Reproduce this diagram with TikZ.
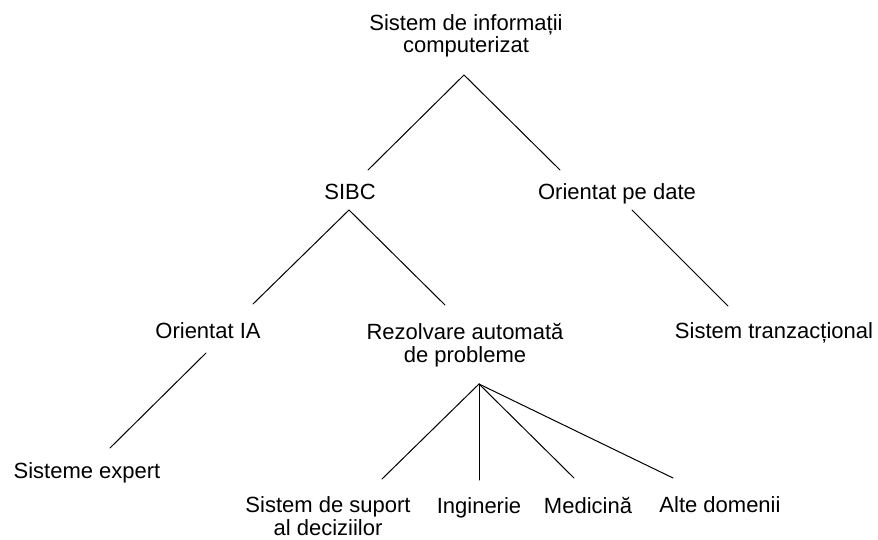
\documentclass[tikz,border=0pt]{standalone}
\usepackage{fontspec}
\setmainfont{Liberation Sans}
\begin{document}
\begin{tikzpicture}[x=1pt,y=-1pt,
  lbl/.style={anchor=base, inner sep=0pt, align=center, font=\fontsize{22}{22.5}\selectfont},
  conn/.style={line width=1pt, line cap=round}]
\useasboundingbox[fill=white] (0,0) rectangle (878,540);
% labels (anchor = baseline of the last line)
\node[lbl] (root)  at (466,53)  {Sistem de informații\\computerizat};
\node[lbl] (sibc)  at (350,200) {SIBC};
\node[lbl] (date)  at (617,200) {Orientat pe date};
\node[lbl] (ia)    at (208,338) {Orientat IA};
\node[lbl] (rez)   at (465,362) {Rezolvare automată\\de probleme};
\node[lbl] (tranz) at (774,338) {Sistem tranzacțional};
\node[lbl] (expert) at (87,478) {Sisteme expert};
\node[lbl] (dss)   at (328,535) {Sistem de suport\\al deciziilor};
\node[lbl] (ing)   at (479,513) {Inginerie};
\node[lbl] (med)   at (588,513) {Medicină};
\node[lbl] (alte)  at (720,512) {Alte domenii};
% connector end points
\coordinate (r0) at (464,75);  \coordinate (r1) at (368,170); \coordinate (r2) at (560,170);
\coordinate (s0) at (349,210); \coordinate (s1) at (253,304); \coordinate (s2) at (445,305);
\coordinate (d0) at (632,210); \coordinate (d1) at (728,306);
\coordinate (i0) at (206,353); \coordinate (i1) at (110,448);
\coordinate (f0) at (479,384); \coordinate (f1) at (382,479); \coordinate (f2) at (479,480);
\coordinate (f3) at (574,478); \coordinate (f4) at (673,478);
% connectors
\draw[conn] (r1) -- (r0) -- (r2);
\draw[conn] (s1) -- (s0) -- (s2);
\draw[conn] (d0) -- (d1);
\draw[conn] (i0) -- (i1);
\draw[conn] (f0) -- (f1);
\draw[conn] (f0) -- (f2);
\draw[conn] (f0) -- (f3);
\draw[conn] (f0) -- (f4);
\end{tikzpicture}
\end{document}
